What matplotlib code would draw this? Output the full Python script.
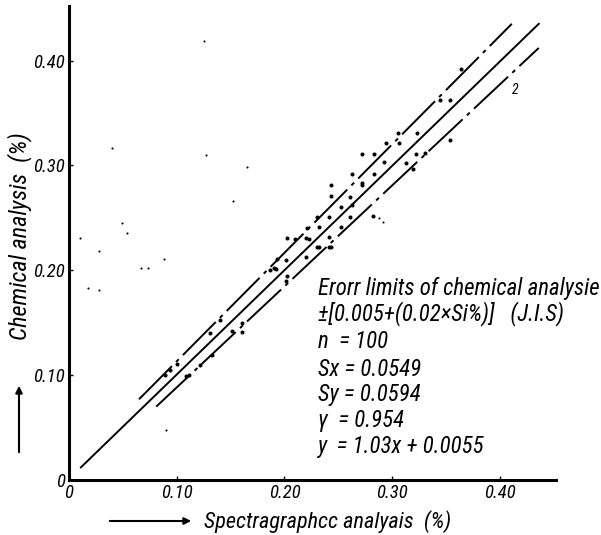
# -*- coding: utf-8 -*-
#   Spectrographic vs chemical analysis of Si (%)
import matplotlib
matplotlib.use('Agg')
import matplotlib.pyplot as plt
from matplotlib.patches import FancyArrowPatch

#   narrow italic lettering, falls back to DejaVu Sans
plt.rcParams['font.family'] = ['Roboto Condensed', 'Liberation Sans', 'DejaVu Sans']
plt.rcParams['font.style'] = 'italic'

#%% data
Spec_X = [0.305, 0.294, 0.306, 0.323, 0.272, 0.283, 0.292, 0.313, 0.322, 0.330,
          0.263, 0.283, 0.272, 0.243, 0.243, 0.261, 0.252, 0.263, 0.241, 0.261,
          0.230, 0.232, 0.252, 0.221, 0.223, 0.241, 0.243, 0.232, 0.220, 0.210,
          0.202, 0.192, 0.201, 0.201, 0.140, 0.161, 0.161, 0.151, 0.131, 0.100,
          0.133, 0.122, 0.111, 0.187, 0.272, 0.364, 0.344, 0.354, 0.354, 0.319,
          0.094, 0.089, 0.109, 0.220, 0.230, 0.241, 0.193, 0.190, 0.202, 0.282]
Chem_Y = [0.331, 0.321, 0.321, 0.331, 0.311, 0.311, 0.303, 0.302, 0.311, 0.312,
          0.292, 0.292, 0.281, 0.281, 0.271, 0.270, 0.260, 0.262, 0.251, 0.251,
          0.251, 0.241, 0.241, 0.240, 0.230, 0.232, 0.222, 0.222, 0.213, 0.230,
          0.231, 0.201, 0.210, 0.190, 0.153, 0.150, 0.141, 0.142, 0.140, 0.111,
          0.119, 0.110, 0.100, 0.200, 0.283, 0.392, 0.362, 0.362, 0.324, 0.297,
          0.105, 0.100, 0.099, 0.231, 0.222, 0.222, 0.211, 0.202, 0.195, 0.252]
#   stray marks on the print
Speck_X = [0.010, 0.049, 0.054, 0.125, 0.040, 0.127, 0.165, 0.152, 0.028,
           0.088, 0.067, 0.073, 0.018, 0.028, 0.090, 0.288, 0.291]
Speck_Y = [0.231, 0.245, 0.236, 0.419, 0.317, 0.310, 0.298, 0.266, 0.218,
           0.211, 0.202, 0.202, 0.183, 0.181, 0.048, 0.250, 0.246]

#   regression line and error limits (end points)
Fit_X = [0.011, 0.436]
Fit_Y = [0.012, 0.435]
Upper_X = [0.065, 0.411]
Upper_Y = [0.077, 0.435]
Lower_X = [0.081, 0.436]
Lower_Y = [0.070, 0.412]

Ticks = [0.0, 0.10, 0.20, 0.30, 0.40]
Tick_Labels = ['0', '0.10', '0.20', '0.30', '0.40']
Info = ['Erorr limits of chemical analysie',
        u'\u00b1[0.005+(0.02\u00d7Si%)]   (J.I.S)',
        'n  = 100',
        'Sx = 0.0549',
        'Sy = 0.0594',
        u'\u03b3  = 0.954',
        'y  = 1.03x + 0.0055']
Row_Y = [288, 314, 342, 369, 395, 420, 446]

#%% figure
W, H = 601, 535
fig = plt.figure(figsize=(W / 100, H / 100), dpi=100, facecolor='w')
ax = fig.add_axes([69 / W, 55 / H, 487 / W, 474 / H])
rend = fig.canvas.get_renderer()


def fit_size(t, target, size0, rotated=False):
    #   scale the font so the text spans target pixels
    t.set_fontsize(size0)
    bb = t.get_window_extent(rend)
    now = bb.height if rotated else bb.width
    t.set_fontsize(size0 * target / now)
    return size0 * target / now


ax.plot(Fit_X, Fit_Y, color='k', linewidth=1.4)
ax.plot(Upper_X, Upper_Y, color='k', linewidth=1.4, dashes=(24, 3, 2, 3))
ax.plot(Lower_X, Lower_Y, color='k', linewidth=1.4, dashes=(24, 3, 2, 3))
ax.plot(Spec_X, Chem_Y, 'o', color='k', markersize=2.9, markeredgewidth=0)
ax.plot(Speck_X, Speck_Y, 'o', color='k', markersize=1.5, markeredgewidth=0)
ax.text(0.414, 0.372, '2', fontsize=10, ha='center', va='center')

ax.set_xlim(0, 0.452)
ax.set_ylim(0, 0.452)
ax.set_xticks(Ticks)
ax.set_yticks(Ticks)
ax.tick_params(direction='in', length=3, width=1, pad=3)
for sp in ['top', 'right']:
    ax.spines[sp].set_visible(False)
for sp in ['left', 'bottom']:
    ax.spines[sp].set_linewidth(2.2)

#   tick label size from the width of '0.10'
probe = fig.text(0, 0, '0.10')
tick_size = fit_size(probe, 32, 14)
probe.remove()
ax.set_xticklabels(Tick_Labels, fontsize=tick_size)
ax.set_yticklabels(Tick_Labels, fontsize=tick_size)

#   axis titles with arrows
yl = fig.text(20 / W, 1 - 236 / H, 'Chemical analysis  (%)', rotation=90,
              ha='center', va='center')
fit_size(yl, 208, 15, rotated=True)
xl = fig.text(328 / W, 1 - 522 / H, 'Spectragraphcc analyais  (%)',
              ha='center', va='center')
fit_size(xl, 247, 15)
fig.add_artist(FancyArrowPatch(
    (19 / W, 1 - 455 / H), (19 / W, 1 - 383 / H), transform=fig.transFigure,
    arrowstyle='-|>', mutation_scale=10, color='k', linewidth=1.5))
fig.add_artist(FancyArrowPatch(
    (107 / W, 1 - 521 / H), (194 / W, 1 - 521 / H), transform=fig.transFigure,
    arrowstyle='-|>', mutation_scale=10, color='k', linewidth=1.5))

#   statistics block, one size fitted to the first row (318 -> 598 px)
rows = [fig.text(318 / W, 1 - py / H, txt, ha='left', va='center')
        for txt, py in zip(Info, Row_Y)]
block_size = fit_size(rows[0], 280, 13)
for t in rows[1:]:
    t.set_fontsize(block_size)

fig.savefig('out.png', dpi=100, facecolor='w')
